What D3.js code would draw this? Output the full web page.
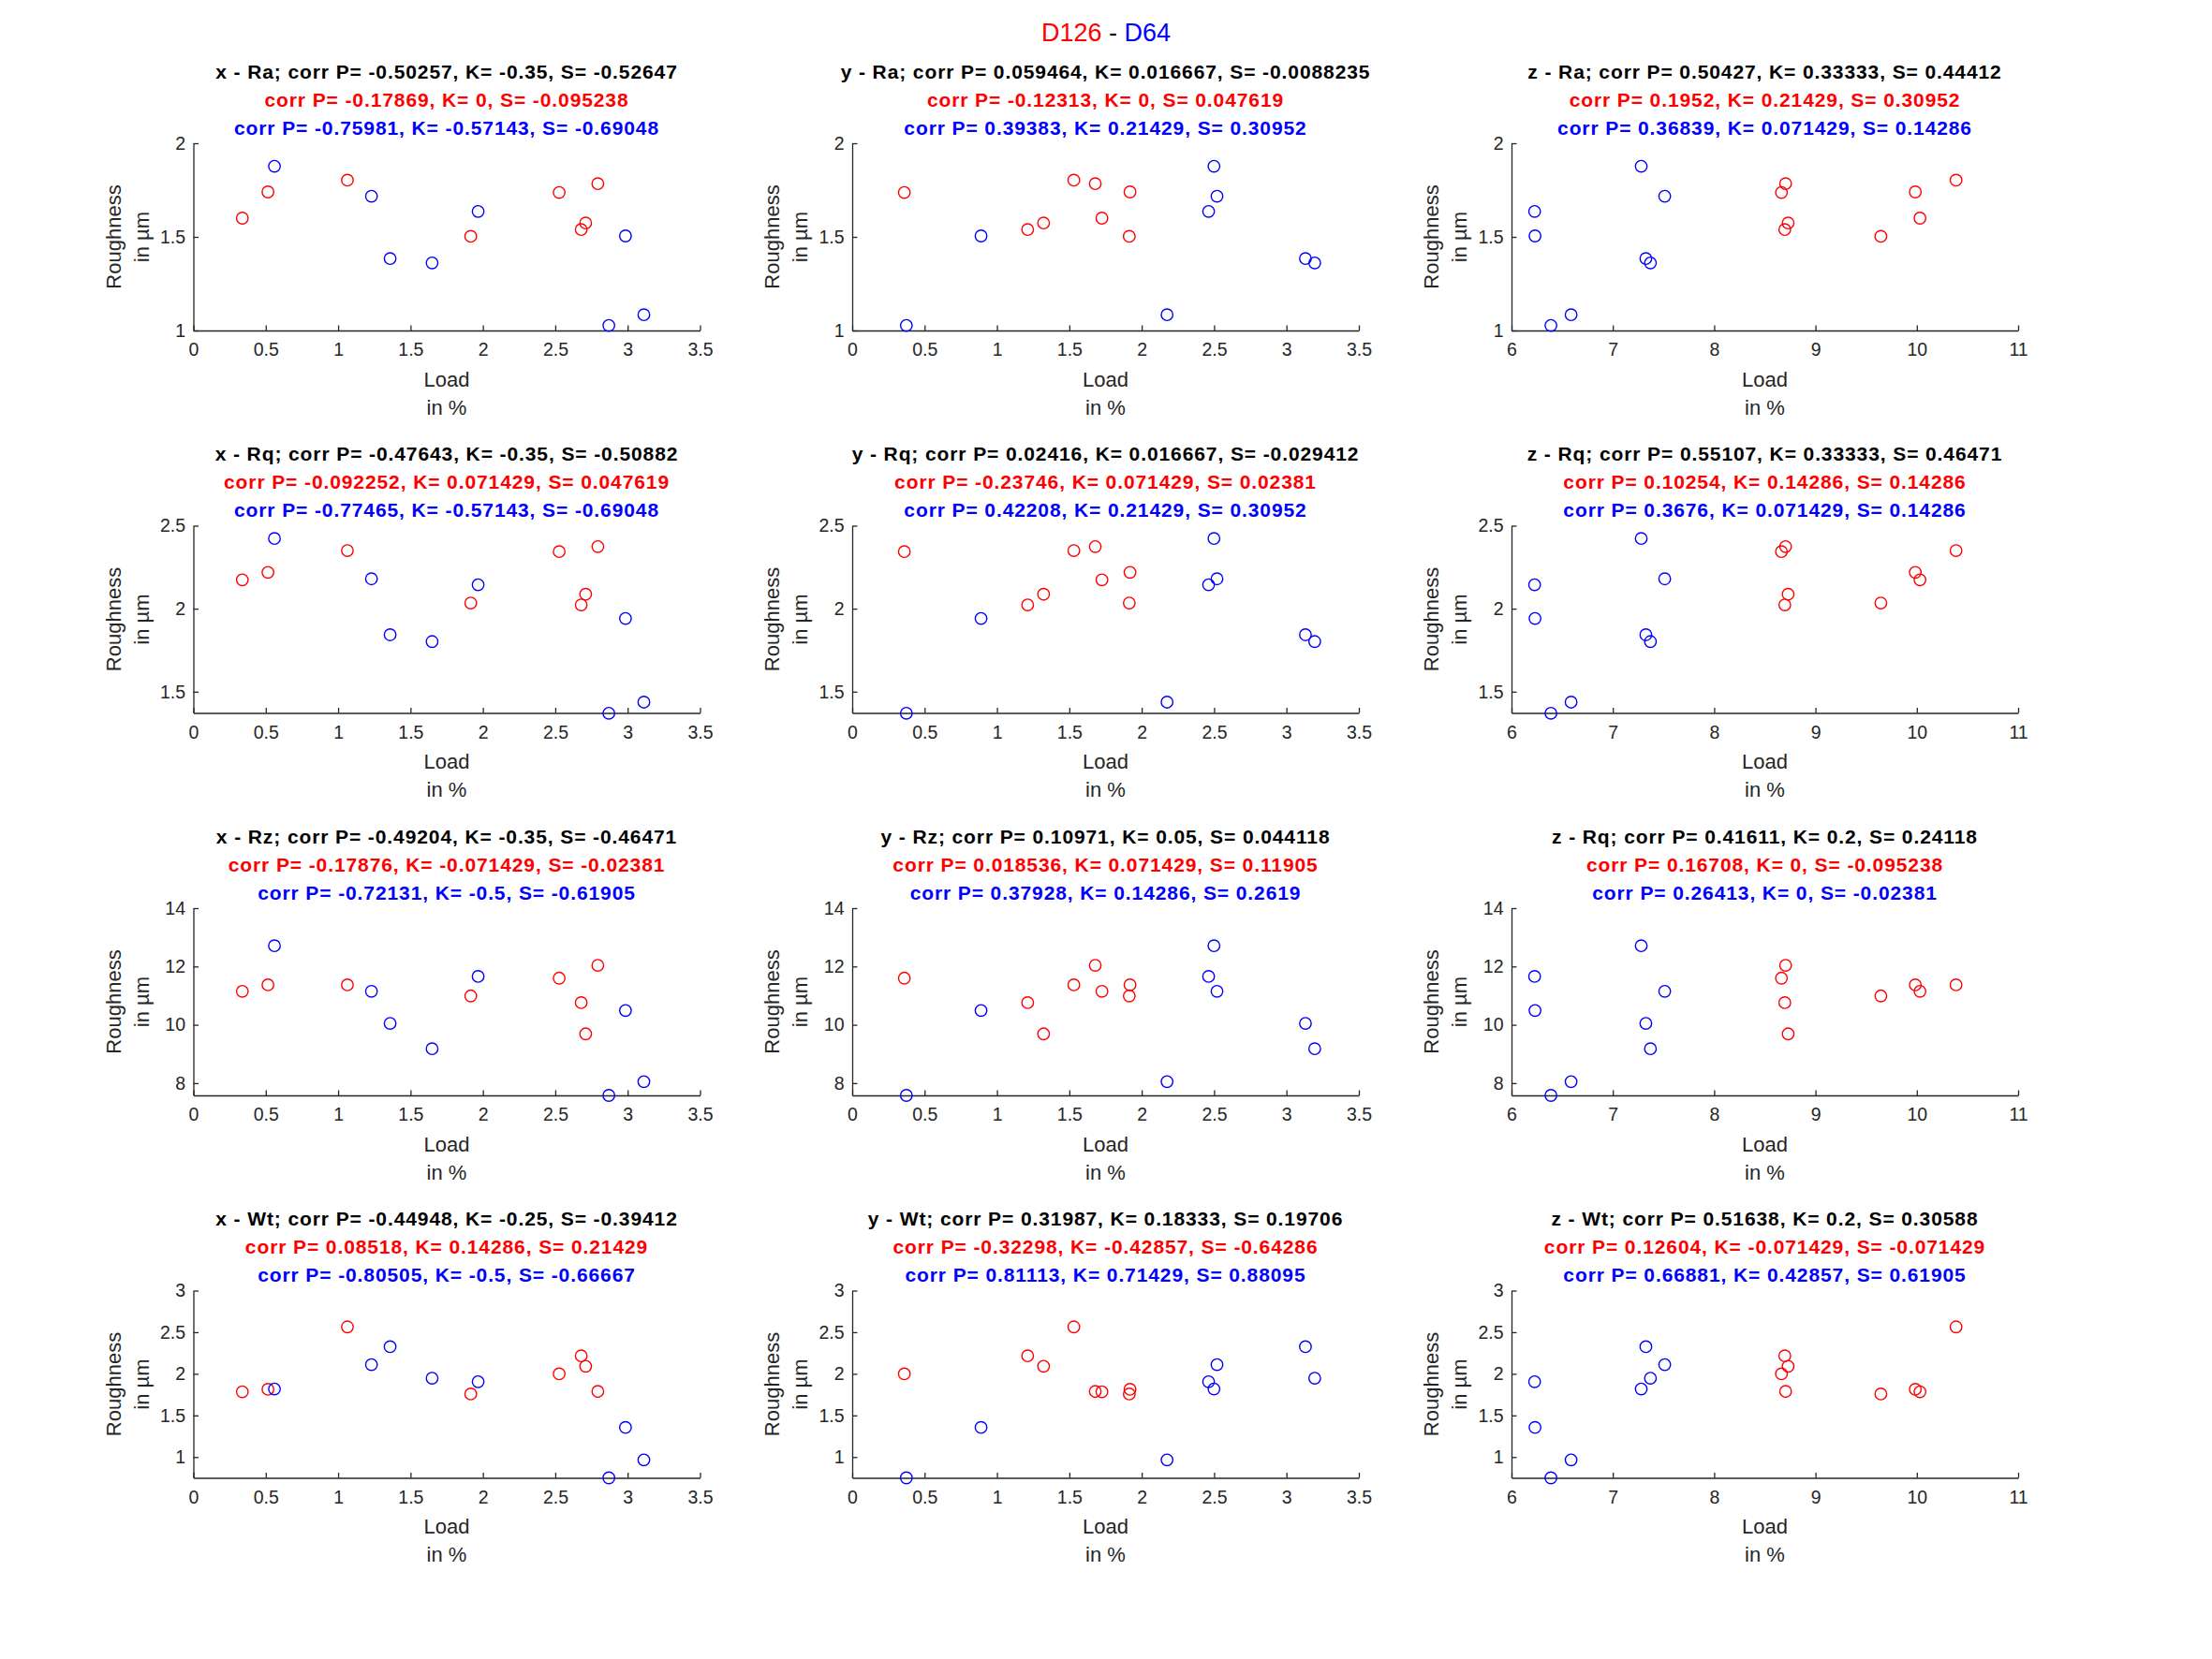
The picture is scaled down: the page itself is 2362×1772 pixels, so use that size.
<!DOCTYPE html>
<html>
<head>
<meta charset="utf-8">
<script src="https://cdn.jsdelivr.net/npm/d3@7"></script>
<style>
  body { margin: 0; background: #fff; }
  svg text { font-family: "Liberation Sans", Arial, Helvetica, sans-serif; }
</style>
</head>
<body>
<svg id="chart" width="2362" height="1772"></svg>
<script>
var figW = 2362, figH = 1772;

// load per direction (x, y, z) and roughness values, one entry per sample
var redX  = [0.338, 0.515, 1.064, 1.916, 2.527, 2.679, 2.710, 2.794];
var redY  = [1.725, 1.919, 1.531, 1.914, 0.360, 1.212, 1.322, 1.679];
var redZ  = [10.031, 9.985, 10.387, 9.645, 8.664, 8.697, 8.730, 8.705];
var redRa = [1.600, 1.740, 1.803, 1.503, 1.737, 1.539, 1.574, 1.784];
var redRq = [2.174, 2.219, 2.350, 2.034, 2.344, 2.023, 2.087, 2.374];
var redRz = [11.15, 11.37, 11.37, 10.99, 11.60, 10.76, 9.69, 12.04];
var redWt = [1.784, 1.814, 2.564, 1.758, 2.000, 2.216, 2.091, 1.788];

var blueX  = [0.560, 1.230, 1.359, 1.649, 1.967, 2.870, 2.985, 3.112];
var blueY  = [2.499, 2.520, 3.131, 3.195, 2.462, 0.374, 0.890, 2.175];
var blueZ  = [7.280, 7.512, 7.326, 7.371, 6.228, 6.389, 6.232, 6.588];
var blueRa = [1.877, 1.717, 1.384, 1.361, 1.636, 1.027, 1.505, 1.084];
var blueRq = [2.423, 2.180, 1.843, 1.802, 2.144, 1.370, 1.941, 1.437];
var blueRz = [12.71, 11.15, 10.05, 9.18, 11.66, 7.58, 10.49, 8.05];
var blueWt = [1.818, 2.110, 2.326, 1.947, 1.905, 0.750, 1.356, 0.966];

// axis limits and ticks
var xDomains = [[0, 3.5], [0, 3.5], [6, 11]];
var xTicks = [
  [0, 0.5, 1, 1.5, 2, 2.5, 3, 3.5],
  [0, 0.5, 1, 1.5, 2, 2.5, 3, 3.5],
  [6, 7, 8, 9, 10, 11]
];
var yDomains = [[1, 2], [1.372, 2.5], [7.58, 14], [0.75, 3]];
var yTicks = [
  [1, 1.5, 2],
  [1.5, 2, 2.5],
  [8, 10, 12, 14],
  [1, 1.5, 2, 2.5, 3]
];

// subplot titles: [black, red, blue] per panel, row by row
var titles = [
  ["x - Ra; corr P= -0.50257, K= -0.35, S= -0.52647", "corr P= -0.17869, K= 0, S= -0.095238", "corr P= -0.75981, K= -0.57143, S= -0.69048"],
  ["y - Ra; corr P= 0.059464, K= 0.016667, S= -0.0088235", "corr P= -0.12313, K= 0, S= 0.047619", "corr P= 0.39383, K= 0.21429, S= 0.30952"],
  ["z - Ra; corr P= 0.50427, K= 0.33333, S= 0.44412", "corr P= 0.1952, K= 0.21429, S= 0.30952", "corr P= 0.36839, K= 0.071429, S= 0.14286"],
  ["x - Rq; corr P= -0.47643, K= -0.35, S= -0.50882", "corr P= -0.092252, K= 0.071429, S= 0.047619", "corr P= -0.77465, K= -0.57143, S= -0.69048"],
  ["y - Rq; corr P= 0.02416, K= 0.016667, S= -0.029412", "corr P= -0.23746, K= 0.071429, S= 0.02381", "corr P= 0.42208, K= 0.21429, S= 0.30952"],
  ["z - Rq; corr P= 0.55107, K= 0.33333, S= 0.46471", "corr P= 0.10254, K= 0.14286, S= 0.14286", "corr P= 0.3676, K= 0.071429, S= 0.14286"],
  ["x - Rz; corr P= -0.49204, K= -0.35, S= -0.46471", "corr P= -0.17876, K= -0.071429, S= -0.02381", "corr P= -0.72131, K= -0.5, S= -0.61905"],
  ["y - Rz; corr P= 0.10971, K= 0.05, S= 0.044118", "corr P= 0.018536, K= 0.071429, S= 0.11905", "corr P= 0.37928, K= 0.14286, S= 0.2619"],
  ["z - Rq; corr P= 0.41611, K= 0.2, S= 0.24118", "corr P= 0.16708, K= 0, S= -0.095238", "corr P= 0.26413, K= 0, S= -0.02381"],
  ["x - Wt; corr P= -0.44948, K= -0.25, S= -0.39412", "corr P= 0.08518, K= 0.14286, S= 0.21429", "corr P= -0.80505, K= -0.5, S= -0.66667"],
  ["y - Wt; corr P= 0.31987, K= 0.18333, S= 0.19706", "corr P= -0.32298, K= -0.42857, S= -0.64286", "corr P= 0.81113, K= 0.71429, S= 0.88095"],
  ["z - Wt; corr P= 0.51638, K= 0.2, S= 0.30588", "corr P= 0.12604, K= -0.071429, S= -0.071429", "corr P= 0.66881, K= 0.42857, S= 0.61905"]
];

var redLoads = [redX, redY, redZ];
var blueLoads = [blueX, blueY, blueZ];
var redRough = [redRa, redRq, redRz, redWt];
var blueRough = [blueRa, blueRq, blueRz, blueWt];

var RED = "#ff0000", BLUE = "#0000ff", AXIS = "#262626";

// subplot grid geometry
var colLeft = [206.5, 910, 1614];
var rowTop = [153, 561.5, 970, 1378.5];
var plotW = 541, plotH = 200;

var svg = d3.select("#chart");

// main title
var main = svg.append("text")
  .attr("x", figW / 2)
  .attr("y", 44)
  .attr("text-anchor", "middle")
  .style("font-size", "27px");
main.append("tspan").attr("fill", RED).text("D126");
main.append("tspan").attr("fill", "#000").text(" - ");
main.append("tspan").attr("fill", BLUE).text("D64");

function zip(xs, ys) {
  return xs.map(function(v, i) { return [v, ys[i]]; });
}

for (var r = 0; r < 4; r++) {
  for (var c = 0; c < 3; c++) {
    var g = svg.append("g")
      .attr("transform", "translate(" + colLeft[c] + "," + rowTop[r] + ")");

    var x = d3.scaleLinear().domain(xDomains[c]).range([0, plotW]);
    var y = d3.scaleLinear().domain(yDomains[r]).range([plotH, 0]);

    // x axis, ticks pointing inward
    var xAxis = g.append("g")
      .attr("transform", "translate(0," + plotH + ")")
      .call(d3.axisBottom(x).tickValues(xTicks[c]).tickFormat(d3.format("")).tickSizeInner(-5.5).tickSizeOuter(0).tickPadding(13.5));
    // y axis
    var yAxis = g.append("g")
      .call(d3.axisLeft(y).tickValues(yTicks[r]).tickFormat(d3.format("")).tickSizeInner(-5.5).tickSizeOuter(0).tickPadding(8.5));

    [xAxis, yAxis].forEach(function(a) {
      a.select(".domain").attr("stroke", AXIS).attr("stroke-width", 1.3);
      a.selectAll(".tick line").attr("stroke", AXIS).attr("stroke-width", 1.3);
      a.selectAll(".tick text").attr("fill", AXIS).style("font-size", "19.5px");
    });

    var pts = [
      { data: zip(redLoads[c], redRough[r]), color: RED },
      { data: zip(blueLoads[c], blueRough[r]), color: BLUE }
    ];
    pts.forEach(function(s) {
      g.selectAll(null)
        .data(s.data)
        .enter().append("circle")
        .attr("cx", function(d) { return x(d[0]); })
        .attr("cy", function(d) { return y(d[1]); })
        .attr("r", 6.2)
        .attr("fill", "none")
        .attr("stroke", s.color)
        .attr("stroke-width", 1.4);
    });

    // axis labels
    var lbl = g.append("g").attr("fill", AXIS).style("font-size", "22px");
    lbl.append("text").attr("x", plotW / 2).attr("y", plotH + 59.5).attr("text-anchor", "middle").text("Load");
    lbl.append("text").attr("x", plotW / 2).attr("y", plotH + 89.5).attr("text-anchor", "middle").text("in %");
    lbl.append("text")
      .attr("transform", "translate(-78," + (plotH / 2) + ") rotate(-90)")
      .attr("text-anchor", "middle").text("Roughness");
    lbl.append("text")
      .attr("transform", "translate(-48," + (plotH / 2) + ") rotate(-90)")
      .attr("text-anchor", "middle").text("in µm");

    // three-line title (bold, a bit wider spacing like the original renderer)
    var t = titles[r * 3 + c];
    var tColors = ["#000", RED, BLUE];
    for (var k = 0; k < 3; k++) {
      g.append("text")
        .attr("x", plotW / 2)
        .attr("y", -69.5 + k * 30.2)
        .attr("text-anchor", "middle")
        .attr("fill", tColors[k])
        .style("font-size", "21px")
        .style("font-weight", "bold")
        .style("letter-spacing", "0.9px")
        .text(t[k]);
    }
  }
}
</script>
</body>
</html>
